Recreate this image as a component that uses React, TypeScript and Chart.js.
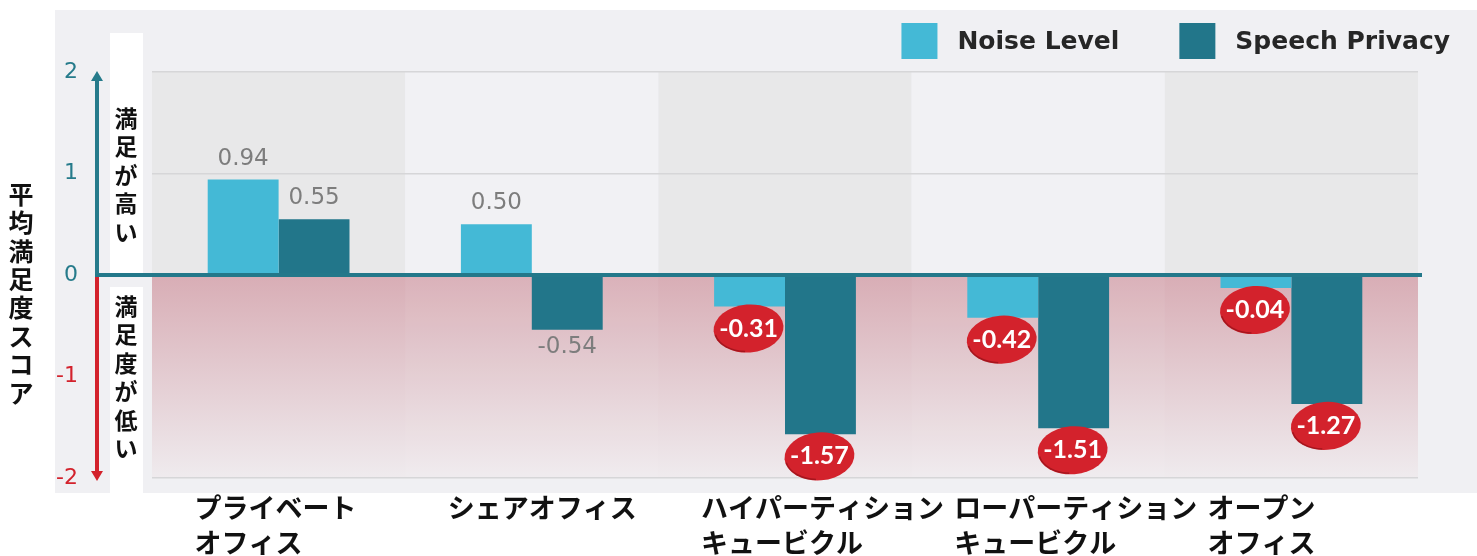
import React, { useEffect, useRef } from 'react';
import { Chart, registerables } from 'chart.js';

Chart.register(...registerables);

// ---------- data ----------
const categories: string[][] = [
  ['プライベート', 'オフィス'],
  ['シェアオフィス'],
  ['ハイパーティション', 'キュービクル'],
  ['ローパーティション', 'キュービクル'],
  ['オープン', 'オフィス'],
];
const seriesNames = ['Noise Level', 'Speech Privacy'];
const noiseLevel = [0.94, 0.5, -0.31, -0.42, -0.04];
const speechPrivacy = [0.55, -0.54, -1.57, -1.51, -1.27];
const yMin = -2;
const yMax = 2;
const yStep = 1;
const yTitle = '平均満足度スコア';
const upperNote = '満足が高い';
const lowerNote = '満足度が低い';
const badgeCategories = [2, 3, 4];

// ---------- styles ----------
const NOISE_COLOR = '#44b9d6';
const SPEECH_COLOR = '#22768a';
const TEAL = '#267b8b';
const RED = '#d3222c';
const PANEL = '#f0f0f3';
const BAND_DARK = '#e8e8e9';
const BAND_LIGHT = '#f1f1f4';
const NUM_FONT = '"DejaVu Sans", Lato, sans-serif';
const BADGE_FONT = 'Lato, "DejaVu Sans", sans-serif';
const JP_FONT = '"Noto Sans CJK JP", "Noto Sans", sans-serif';

function fmt(v: number) {
  return v.toFixed(2);
}

function drawVertical(ctx: CanvasRenderingContext2D, text: string, cx: number, top: number, pitch: number, font: string, color: string) {
  ctx.save();
  ctx.font = font;
  ctx.fillStyle = color;
  ctx.textAlign = 'center';
  ctx.textBaseline = 'middle';
  Array.from(text).forEach((ch, i) => ctx.fillText(ch, cx, top + pitch * (i + 0.5)));
  ctx.restore();
}

const backgroundPlugin = {
  id: 'bgPanels',
  beforeDraw(chart: any) {
    const { ctx, chartArea, scales } = chart;
    const x = scales.x;
    const y = scales.y;
    const y0 = y.getPixelForValue(0);
    const yTop = y.getPixelForValue(yMax);
    const yBot = y.getPixelForValue(yMin);
    ctx.save();
    ctx.fillStyle = '#ffffff';
    ctx.fillRect(0, 0, chart.width, chart.height);
    ctx.fillStyle = PANEL;
    ctx.fillRect(55, 10, chart.width - 55, 483);
    const n = categories.length;
    const catW = (chartArea.right - chartArea.left) / n;
    for (let i = 0; i < n; i++) {
      const cx = x.getPixelForValue(i);
      const left = cx - catW / 2;
      ctx.fillStyle = i % 2 === 0 ? BAND_DARK : BAND_LIGHT;
      ctx.fillRect(left, yTop, catW, y0 - yTop);
    }
    const g = ctx.createLinearGradient(0, y0, 0, yBot);
    g.addColorStop(0, '#d8adb5');
    g.addColorStop(1, '#efebee');
    ctx.fillStyle = g;
    ctx.fillRect(chartArea.left, y0, chartArea.right - chartArea.left, yBot - y0);
    for (let i = 1; i < n; i += 2) {
      const cx = x.getPixelForValue(i);
      ctx.fillStyle = 'rgba(255,255,255,0.06)';
      ctx.fillRect(cx - catW / 2, y0, catW, yBot - y0);
    }
    ctx.fillStyle = '#ffffff';
    ctx.fillRect(110, 33, 33, y0 - 33);
    ctx.fillRect(110, 287, 33, 493 - 287);
    ctx.restore();
  },
  afterDatasetsDraw(chart: any) {
    const { ctx, chartArea, scales } = chart;
    const y = scales.y;
    const y0 = y.getPixelForValue(0);
    const yTop = y.getPixelForValue(yMax);
    const yBot = y.getPixelForValue(yMin);
    ctx.save();
    ctx.strokeStyle = '#23788a';
    ctx.lineWidth = 4;
    ctx.beginPath();
    ctx.moveTo(95, y0);
    ctx.lineTo(chartArea.right + 4, y0);
    ctx.stroke();
    const ax = 97;
    ctx.lineWidth = 4;
    ctx.strokeStyle = TEAL;
    ctx.beginPath();
    ctx.moveTo(ax, y0 - 1);
    ctx.lineTo(ax, yTop + 8);
    ctx.stroke();
    ctx.fillStyle = TEAL;
    ctx.beginPath();
    ctx.moveTo(ax, yTop - 1);
    ctx.lineTo(ax - 6, yTop + 9);
    ctx.lineTo(ax + 6, yTop + 9);
    ctx.closePath();
    ctx.fill();
    ctx.strokeStyle = RED;
    ctx.beginPath();
    ctx.moveTo(ax, y0 + 2);
    ctx.lineTo(ax, yBot - 6);
    ctx.stroke();
    ctx.fillStyle = RED;
    ctx.beginPath();
    ctx.moveTo(ax, yBot + 3);
    ctx.lineTo(ax - 6, yBot - 7);
    ctx.lineTo(ax + 6, yBot - 7);
    ctx.closePath();
    ctx.fill();

    chart.data.datasets.forEach((ds: any, di: number) => {
      const meta = chart.getDatasetMeta(di);
      meta.data.forEach((bar: any, i: number) => {
        const v = ds.data[i] as number;
        const txt = fmt(v);
        if (v >= 0) {
          ctx.font = `23px ${NUM_FONT}`;
          ctx.fillStyle = '#7d7d7d';
          ctx.textAlign = 'center';
          ctx.textBaseline = 'middle';
          ctx.fillText(txt, bar.x, bar.y - 21);
        } else if (badgeCategories.indexOf(i) < 0) {
          ctx.font = `23px ${NUM_FONT}`;
          ctx.fillStyle = '#7d7d7d';
          ctx.textAlign = 'center';
          ctx.textBaseline = 'middle';
          ctx.fillText(txt, bar.x, bar.y + 17);
        } else {
          const cy = bar.y + 22;
          ctx.fillStyle = RED;
          ctx.beginPath();
          ctx.ellipse(bar.x - 1, cy, 35, 24, -0.08, 0, Math.PI * 2);
          ctx.fill();
          ctx.strokeStyle = 'rgba(120,10,15,0.5)';
          ctx.lineWidth = 1.5;
          ctx.beginPath();
          ctx.ellipse(bar.x - 1, cy, 34, 23, -0.08, Math.PI * 0.55, Math.PI * 0.95);
          ctx.stroke();
          ctx.font = `bold 25px ${BADGE_FONT}`;
          ctx.fillStyle = '#ffffff';
          ctx.textAlign = 'center';
          ctx.textBaseline = 'middle';
          ctx.fillText(txt, bar.x - 1, cy);
        }
      });
    });
    ctx.restore();
  },
  afterDraw(chart: any) {
    const { ctx } = chart;
    drawVertical(ctx, yTitle, 21, 180, 28.4, `bold 25px ${JP_FONT}`, '#111111');
    drawVertical(ctx, upperNote, 126, 104, 28.5, `bold 23px ${JP_FONT}`, '#111111');
    drawVertical(ctx, lowerNote, 126, 292, 28.4, `bold 23px ${JP_FONT}`, '#111111');

    ctx.save();
    ctx.font = `bold 25px "DejaVu Sans", sans-serif`;
    ctx.textBaseline = 'middle';
    ctx.textAlign = 'left';
    const colors = [NOISE_COLOR, SPEECH_COLOR];
    let xEnd = 1450;
    const items: { x: number; name: string; color: string }[] = [];
    for (let k = seriesNames.length - 1; k >= 0; k--) {
      const w = ctx.measureText(seriesNames[k]).width;
      const tx = xEnd - w;
      items.push({ x: tx, name: seriesNames[k], color: colors[k] });
      xEnd = tx - 20 - 36 - 60;
    }
    items.forEach((it) => {
      ctx.fillStyle = it.color;
      ctx.fillRect(it.x - 20 - 36, 23, 36, 36);
      ctx.fillStyle = '#262626';
      ctx.fillText(it.name, it.x, 42);
    });
    ctx.restore();
  },
};

export default function App() {
  const ref = useRef<HTMLCanvasElement | null>(null);
  useEffect(() => {
    if (!ref.current) return;
    const chart = new Chart(ref.current, {
      type: 'bar',
      data: {
        labels: categories,
        datasets: [
          { label: seriesNames[0], data: noiseLevel, backgroundColor: NOISE_COLOR, minBarLength: 13 },
          { label: seriesNames[1], data: speechPrivacy, backgroundColor: SPEECH_COLOR, minBarLength: 13 },
        ],
      },
      options: {
        responsive: false,
        animation: false,
        layout: { padding: { top: 72, right: 59, left: 0, bottom: 0 } },
        datasets: { bar: { categoryPercentage: 0.56, barPercentage: 1.0 } },
        plugins: { legend: { display: false }, tooltip: { enabled: false } },
        scales: {
          x: {
            grid: { display: false, drawTicks: false },
            border: { display: false },
            ticks: {
              align: 'start',
              labelOffset: -84,
              padding: 12,
              color: '#111111',
              font: { family: JP_FONT, size: 27, weight: 'bold', lineHeight: 1.3 },
              maxRotation: 0,
              minRotation: 0,
              autoSkip: false,
            },
            afterFit: (s: any) => {
              s.height = 78;
            },
          },
          y: {
            min: yMin,
            max: yMax,
            grid: {
              drawTicks: false,
              lineWidth: 1.5,
              color: (c: any) => (c.tick && (c.tick.value === 0 || c.tick.value === -1) ? 'rgba(0,0,0,0)' : '#d6d6d8'),
            },
            border: { display: false },
            ticks: {
              stepSize: yStep,
              padding: 74,
              font: { family: NUM_FONT, size: 22 },
              color: (c: any) => (c.tick && c.tick.value < 0 ? RED : TEAL),
              callback: (v: any) => String(v),
            },
            afterFit: (s: any) => {
              s.width = 152;
              s.paddingTop = 12;
              s.paddingBottom = 12;
            },
          },
        },
      } as any,
      plugins: [backgroundPlugin],
    });
    return () => chart.destroy();
  }, []);
  return (
    <div style={{ position: 'fixed', left: 0, top: 0, width: 1477, height: 556, background: '#fff' }}>
      <canvas ref={ref} width={1477} height={556} style={{ display: 'block' }} />
    </div>
  );
}
